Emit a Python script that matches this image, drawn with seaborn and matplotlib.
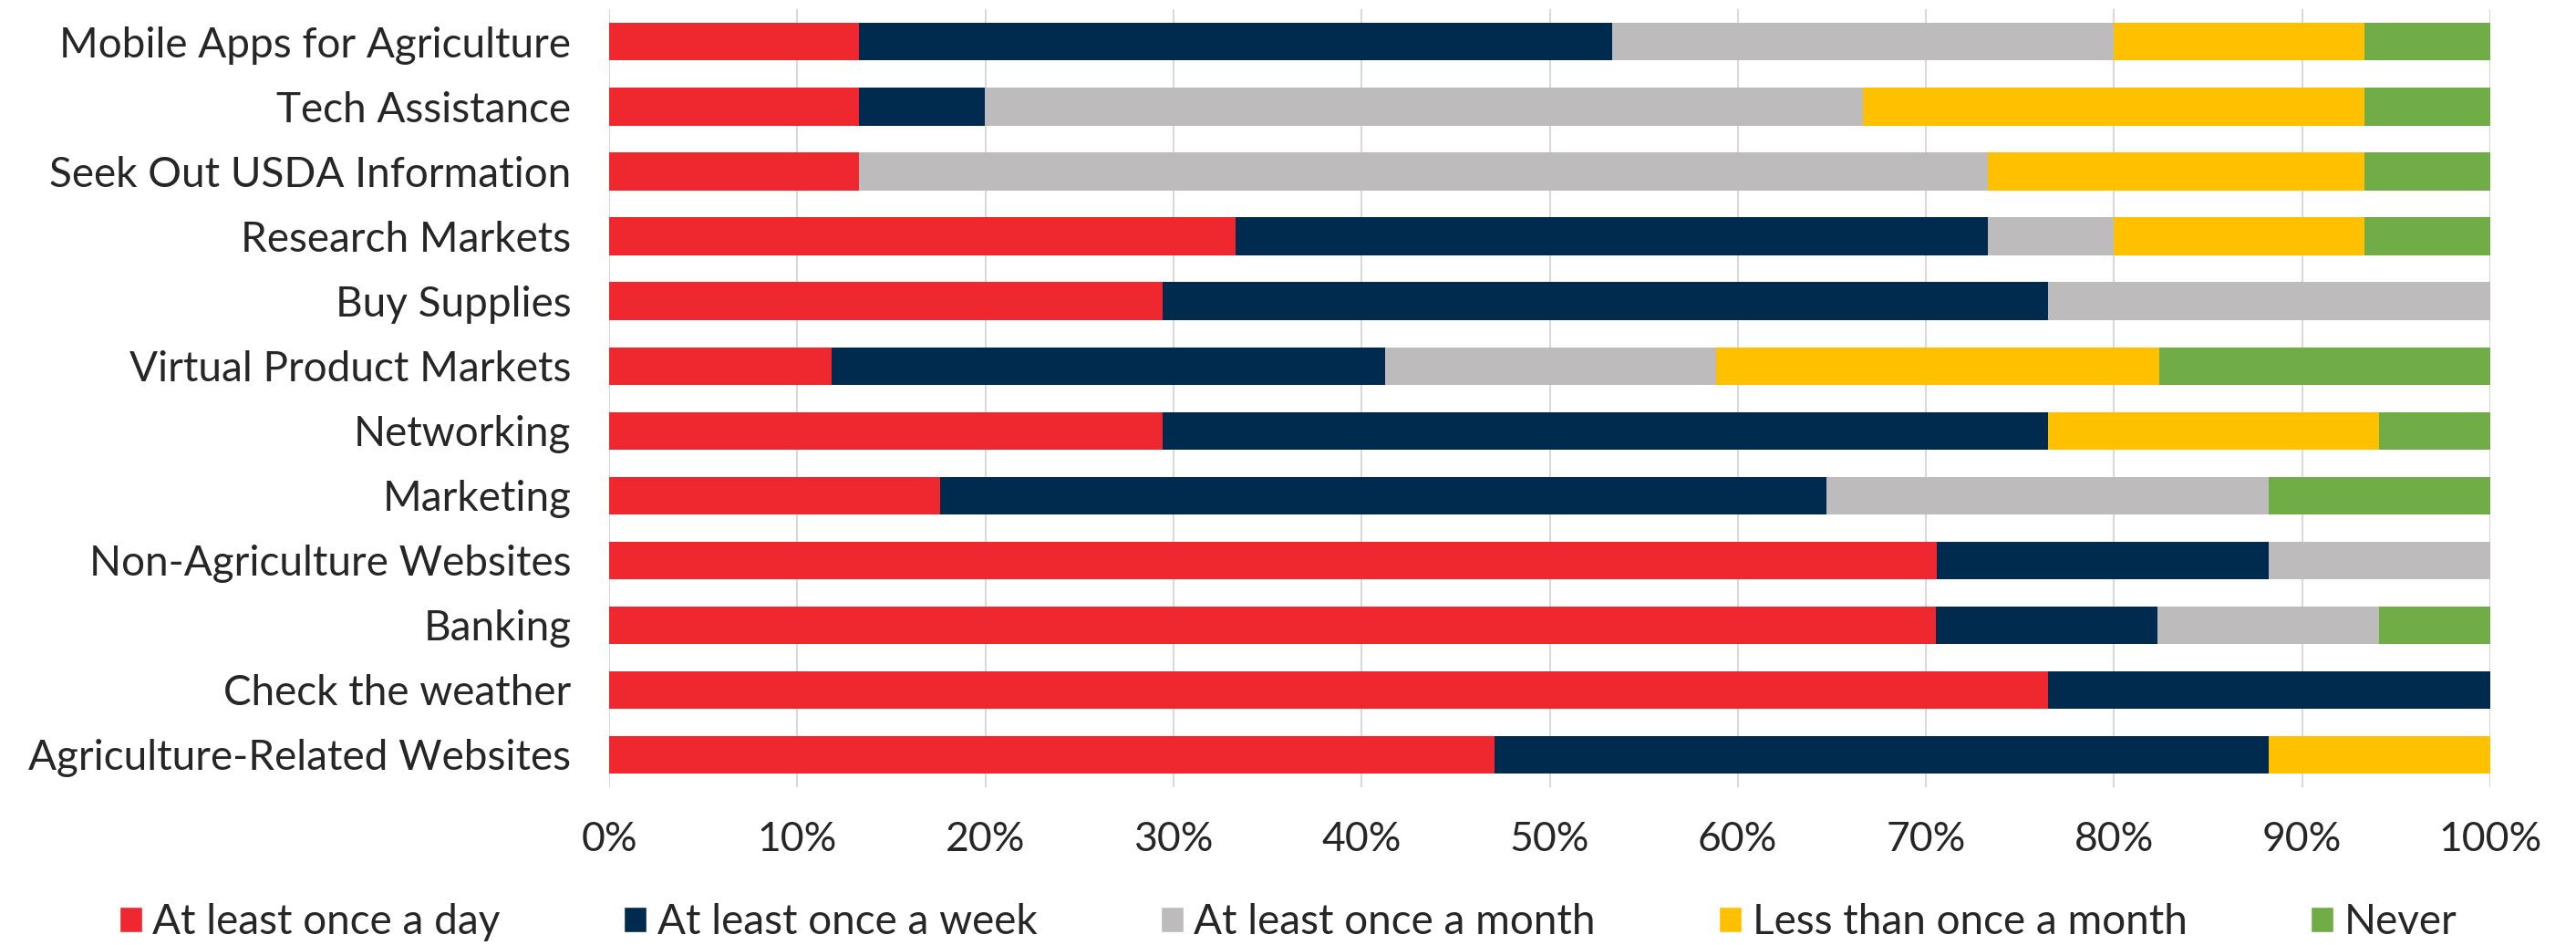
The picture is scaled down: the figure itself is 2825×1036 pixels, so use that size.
import pandas as pd
import numpy as np
import seaborn as sns
import matplotlib.pyplot as plt
from matplotlib.patches import Patch

# survey data, percent of respondents per activity
activities = ["Mobile Apps for Agriculture", "Tech Assistance", "Seek Out USDA Information",
              "Research Markets", "Buy Supplies", "Virtual Product Markets", "Networking",
              "Marketing", "Non-Agriculture Websites", "Banking", "Check the weather",
              "Agriculture-Related Websites"]
series = ["At least once a day", "At least once a week", "At least once a month",
          "Less than once a month", "Never"]
daily = [13.3, 13.3, 13.3, 33.3, 29.4, 11.8, 29.4, 17.6, 70.6, 70.6, 76.5, 47.1]
weekly = [40.0, 6.7, 0.0, 40.0, 47.1, 29.4, 47.1, 47.1, 17.6, 11.8, 23.5, 41.2]
monthly = [26.7, 46.7, 60.0, 6.7, 23.5, 17.6, 0.0, 23.5, 11.8, 11.8, 0.0, 0.0]
less_monthly = [13.3, 26.7, 20.0, 13.3, 0.0, 23.5, 17.6, 0.0, 0.0, 0.0, 0.0, 11.8]
never = [6.7, 6.7, 6.7, 6.7, 0.0, 17.6, 5.9, 11.8, 0.0, 5.9, 0.0, 0.0]
colors = ["#EE282E", "#002B4E", "#BDBBBB", "#FFC000", "#70AD47"]

df = pd.DataFrame({"activity": activities, series[0]: daily, series[1]: weekly,
                   series[2]: monthly, series[3]: less_monthly, series[4]: never})
vals = df[series].values
vals = vals / vals.sum(axis=1, keepdims=True) * 100
cum = np.cumsum(vals, axis=1)

sns.set_style("white")
plt.rcParams['font.family'] = ['Lato', 'DejaVu Sans']

fig = plt.figure(figsize=(28.25, 10.36), dpi=100)
ax = fig.add_axes([0.2365, 0.167, 0.7302, 0.823])

# draw from the right end back, each cumulative bar covers the previous
for i in range(len(series) - 1, -1, -1):
    tmp = pd.DataFrame({"activity": activities, "value": cum[:, i]})
    sns.barplot(data=tmp, x="value", y="activity", color=colors[i], orient="h",
                width=0.58, saturation=1, ax=ax, zorder=2, linewidth=0)

ax.set_xlim(0, 100)
ax.set_xticks(range(0, 101, 10))
ax.set_xticklabels([f"{t}%" for t in range(0, 101, 10)], fontsize=32)
ax.tick_params(axis="y", labelsize=33, length=0, pad=30)
ax.tick_params(axis="x", length=0, pad=27)
ax.set_xlabel("")
ax.set_ylabel("")
ax.grid(axis="x", color="#D9D9D9", linewidth=1.5, zorder=0)
ax.set_axisbelow(True)
for s in ax.spines.values():
    s.set_visible(False)

handles = [Patch(facecolor=c, label=l) for c, l in zip(colors, series)]
fig.legend(handles=handles, loc="lower center", ncol=5, frameon=False, fontsize=33,
           bbox_to_anchor=(0.5, -0.036), handlelength=0.55, handleheight=0.55,
           handletextpad=0.25, columnspacing=2.95)

fig.savefig("out.png", dpi=100)
